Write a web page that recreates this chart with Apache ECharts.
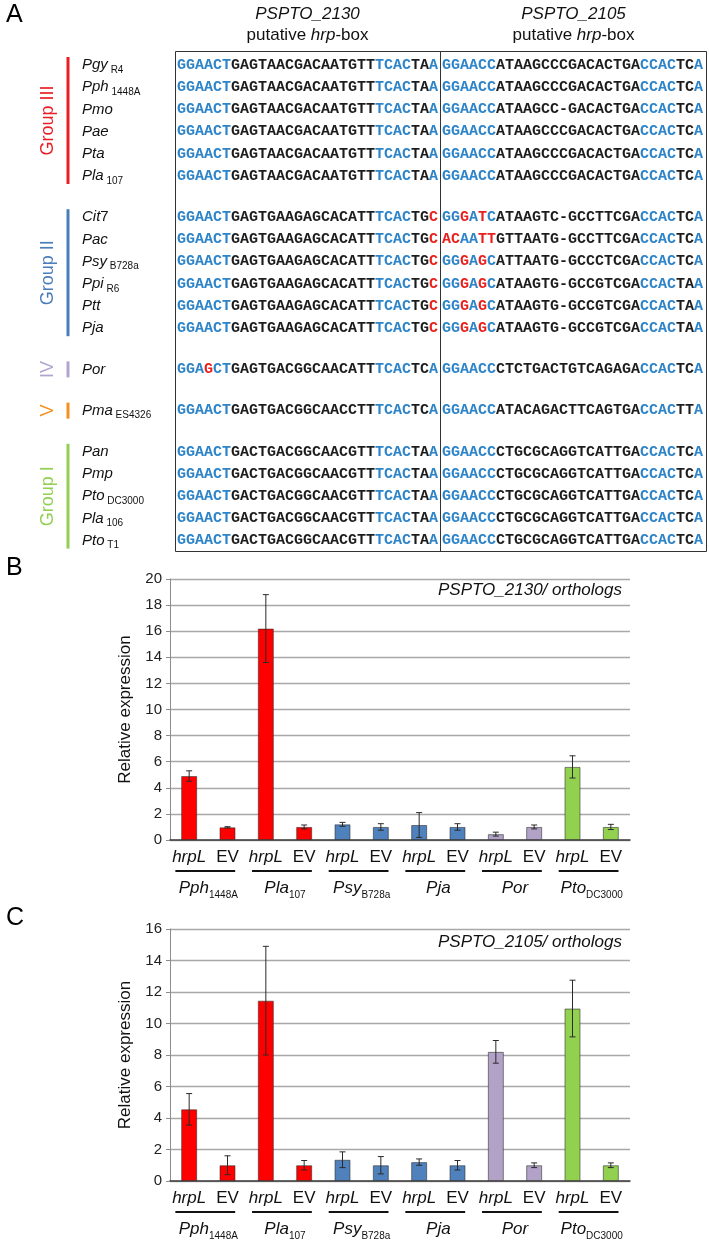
<!DOCTYPE html>
<html><head><meta charset="utf-8">
<script src="https://cdn.jsdelivr.net/npm/echarts@6/dist/echarts.min.js"></script>
<style>html,body{margin:0;padding:0;background:#fff}#c{width:709px;height:1247px}</style>
</head><body><div id="c"></div>
<script>
// ---------- Panel A data ----------
const strainNames = ['Pgy','Pph','Pmo','Pae','Pta','Pla','Cit','Pac','Psy','Ppi','Ptt','Pja','Por','Pma','Pan','Pmp','Pto','Pla','Pto'];
const strainSubs  = ['R4','1448A','','','','107','#7','','B728a','R6','','','','ES4326','','','DC3000','106','T1'];
const rowGroup    = [0,0,0,0,0,0,1,1,1,1,1,1,2,3,4,4,4,4,4];
// [..] blue (hrp-box consensus), <..> red (mismatch), rest black
const seq2130 = [
  '[GGAACT]GAGTAACGACAATGTT[TCAC]TA[A]',
  '[GGAACT]GAGTAACGACAATGTT[TCAC]TA[A]',
  '[GGAACT]GAGTAACGACAATGTT[TCAC]TA[A]',
  '[GGAACT]GAGTAACGACAATGTT[TCAC]TA[A]',
  '[GGAACT]GAGTAACGACAATGTT[TCAC]TA[A]',
  '[GGAACT]GAGTAACGACAATGTT[TCAC]TA[A]',
  '[GGAACT]GAGTGAAGAGCACATT[TCAC]TG<C>',
  '[GGAACT]GAGTGAAGAGCACATT[TCAC]TG<C>',
  '[GGAACT]GAGTGAAGAGCACATT[TCAC]TG<C>',
  '[GGAACT]GAGTGAAGAGCACATT[TCAC]TG<C>',
  '[GGAACT]GAGTGAAGAGCACATT[TCAC]TG<C>',
  '[GGAACT]GAGTGAAGAGCACATT[TCAC]TG<C>',
  '[GGA]<G>[CT]GAGTGACGGCAACATT[TCAC]TC[A]',
  '[GGAACT]GAGTGACGGCAACCTT[TCAC]TC[A]',
  '[GGAACT]GACTGACGGCAACGTT[TCAC]TA[A]',
  '[GGAACT]GACTGACGGCAACGTT[TCAC]TA[A]',
  '[GGAACT]GACTGACGGCAACGTT[TCAC]TA[A]',
  '[GGAACT]GACTGACGGCAACGTT[TCAC]TA[A]',
  '[GGAACT]GACTGACGGCAACGTT[TCAC]TA[A]'
];
const seq2105 = [
  '[GGAACC]ATAAGCCCGACACTGA[CCAC]TC[A]',
  '[GGAACC]ATAAGCCCGACACTGA[CCAC]TC[A]',
  '[GGAACC]ATAAGCC-GACACTGA[CCAC]TC[A]',
  '[GGAACC]ATAAGCCCGACACTGA[CCAC]TC[A]',
  '[GGAACC]ATAAGCCCGACACTGA[CCAC]TC[A]',
  '[GGAACC]ATAAGCCCGACACTGA[CCAC]TC[A]',
  '[GG]<G>[A]<T>[C]ATAAGTC-GCCTTCGA[CCAC]TC[A]',
  '<AC>[AA]<TT>GTTAATG-GCCTTCGA[CCAC]TC[A]',
  '[GG]<G>[A]<G>[C]ATTAATG-GCCCTCGA[CCAC]TC[A]',
  '[GG]<G>[A]<G>[C]ATAAGTG-GCCGTCGA[CCAC]TA[A]',
  '[GG]<G>[A]<G>[C]ATAAGTG-GCCGTCGA[CCAC]TA[A]',
  '[GG]<G>[A]<G>[C]ATAAGTG-GCCGTCGA[CCAC]TA[A]',
  '[GGAACC]CTCTGACTGTCAGAGA[CCAC]TC[A]',
  '[GGAACC]ATACAGACTTCAGTGA[CCAC]TT[A]',
  '[GGAACC]CTGCGCAGGTCATTGA[CCAC]TC[A]',
  '[GGAACC]CTGCGCAGGTCATTGA[CCAC]TC[A]',
  '[GGAACC]CTGCGCAGGTCATTGA[CCAC]TC[A]',
  '[GGAACC]CTGCGCAGGTCATTGA[CCAC]TC[A]',
  '[GGAACC]CTGCGCAGGTCATTGA[CCAC]TC[A]'
];
const groupNames  = ['Group III','Group II','IV','V','Group I'];
const groupColors = ['#ea1c24','#4a7ebb','#b1a4cf','#f4901e','#92cf52'];
const geneTitles  = ['PSPTO_2130','PSPTO_2105'];

// ---------- Panels B, C data ----------
const barLabels   = ['hrpL','EV','hrpL','EV','hrpL','EV','hrpL','EV','hrpL','EV','hrpL','EV'];
const sampleNames = ['Pph','Pla','Psy','Pja','Por','Pto'];
const sampleSubs  = ['1448A','107','B728a','','','DC3000'];
const sampleColors = ['#FF0000','#FF0000','#4F81BD','#4F81BD','#B3A2C7','#92D050'];
const valuesB = [4.9, 0.97, 16.2, 1.0, 1.2, 1.0, 1.15, 1.0, 0.45, 1.0, 5.6, 1.0];
const errorsB = [0.4, 0.05, 2.6, 0.15, 0.15, 0.25, 0.95, 0.25, 0.15, 0.15, 0.85, 0.2];
const valuesC = [4.55, 1.0, 11.45, 1.0, 1.35, 1.0, 1.2, 1.0, 8.2, 1.0, 10.95, 1.0];
const errorsC = [1.0, 0.6, 3.45, 0.3, 0.5, 0.55, 0.2, 0.3, 0.72, 0.15, 1.8, 0.15];
const titleB = 'PSPTO_2130/ orthologs';
const titleC = 'PSPTO_2105/ orthologs';
const yMaxB = 20, yMaxC = 16, yStep = 2;

// ---------- helpers ----------
const SANS = '"Liberation Sans", Arial, sans-serif';
const MONO = '"Liberation Mono", "Courier New", monospace';
function seqRich(s){
  let out = '', mode = 'k', buf = '';
  const flush = () => { if (buf) { out += '{' + mode + '|' + buf + '}'; buf = ''; } };
  for (const ch of s) {
    if (ch === '[') { flush(); mode = 'b'; }
    else if (ch === '<') { flush(); mode = 'r'; }
    else if (ch === ']' || ch === '>') { flush(); mode = 'k'; }
    else buf += ch;
  }
  flush();
  return out;
}
const seqFont = {fontSize: 15, fontFamily: MONO, fontWeight: 'bold'};
const seqRichStyles = {
  k: Object.assign({fill: '#1c1c1c'}, seqFont),
  b: Object.assign({fill: '#2d84c8'}, seqFont),
  r: Object.assign({fill: '#e8201c'}, seqFont)
};

const graphics = [];
// panel letters
[['A', 15], ['B', 568], ['C', 918]].forEach(([t, y]) => graphics.push({
  type: 'text', x: 6, y: y, style: {text: t, fontSize: 25, fontFamily: SANS, fill: '#000', verticalAlign: 'middle'}
}));
// gene titles
const colCenters = [307.5, 573.5];
geneTitles.forEach((g, k) => {
  graphics.push({type: 'text', x: colCenters[k], y: 14, style: {text: g, fontSize: 17, fontStyle: 'italic', fontFamily: SANS, fill: '#111', align: 'center', verticalAlign: 'middle'}});
  graphics.push({type: 'text', x: colCenters[k], y: 35, style: {
    text: '{n|putative }{i|hrp}{n|-box}', align: 'center', verticalAlign: 'middle', fontSize: 17, fontFamily: SANS,
    rich: {n: {fontSize: 17, fontFamily: SANS, fill: '#111'}, i: {fontSize: 17, fontFamily: SANS, fontStyle: 'italic', fill: '#111'}}
  }});
});
// alignment box
graphics.push({type: 'rect', shape: {x: 175.5, y: 51.5, width: 531, height: 500}, style: {fill: 'none', stroke: '#333', lineWidth: 1}});
graphics.push({type: 'line', shape: {x1: 440.5, y1: 51.5, x2: 440.5, y2: 551.5}, style: {stroke: '#333', lineWidth: 1}});

const rowY = strainNames.map((_, i) => 65 + i * 22.2 + rowGroup[i] * 19);
strainNames.forEach((nm, i) => {
  const sub = strainSubs[i];
  let txt = '{i|' + nm + '}';
  if (sub.startsWith('#')) txt += '{n|' + sub.slice(1) + '}';
  else if (sub) txt += '{s| ' + sub + '}';
  graphics.push({type: 'text', x: 82, y: rowY[i], style: {
    text: txt, verticalAlign: 'middle', fontSize: 15, fontFamily: SANS,
    rich: {
      i: {fontSize: 15, fontFamily: SANS, fontStyle: 'italic', fill: '#111', lineHeight: 20, verticalAlign: 'middle'},
      n: {fontSize: 15, fontFamily: SANS, fill: '#111', lineHeight: 20, verticalAlign: 'middle'},
      s: {fontSize: 10, fontFamily: SANS, fill: '#111', lineHeight: 20, verticalAlign: 'bottom'}
    }
  }});
  graphics.push({type: 'text', x: 177, y: rowY[i], style: {text: seqRich(seq2130[i]), verticalAlign: 'middle', fontSize: 15, fontFamily: MONO, fontWeight: 'bold', rich: seqRichStyles}});
  graphics.push({type: 'text', x: 442, y: rowY[i], style: {text: seqRich(seq2105[i]), verticalAlign: 'middle', fontSize: 15, fontFamily: MONO, fontWeight: 'bold', rich: seqRichStyles}});
});
// group bars and labels
groupNames.forEach((g, gi) => {
  const ys = rowY.filter((_, i) => rowGroup[i] === gi);
  const y1 = Math.min(...ys) - 8, y2 = Math.max(...ys) + 8;
  graphics.push({type: 'line', shape: {x1: 68, y1: y1, x2: 68, y2: y2}, style: {stroke: groupColors[gi], lineWidth: 3}});
  graphics.push({type: 'text', x: 48, y: (y1 + y2) / 2, rotation: Math.PI / 2, style: {
    text: g, fontSize: 18, fontFamily: SANS, fill: groupColors[gi], align: 'center', verticalAlign: 'middle'}});
});
// chart titles
graphics.push({type: 'text', x: 622, y: 590, style: {text: titleB, fontSize: 17, fontStyle: 'italic', fontFamily: SANS, fill: '#111', align: 'right', verticalAlign: 'middle'}});
graphics.push({type: 'text', x: 622, y: 942, style: {text: titleC, fontSize: 17, fontStyle: 'italic', fontFamily: SANS, fill: '#111', align: 'right', verticalAlign: 'middle'}});

// ---------- charts ----------
function errRender(params, api){
  const x = api.value(0), v = api.value(1), e = api.value(2);
  const hi = api.coord([x, v + e]), lo = api.coord([x, v - e]);
  const cw = 3;
  const st = {stroke: '#2a2a2a', lineWidth: 1};
  return {type: 'group', children: [
    {type: 'line', shape: {x1: hi[0], y1: hi[1], x2: lo[0], y2: lo[1]}, style: st},
    {type: 'line', shape: {x1: hi[0] - cw, y1: hi[1], x2: hi[0] + cw, y2: hi[1]}, style: st},
    {type: 'line', shape: {x1: lo[0] - cw, y1: lo[1], x2: lo[0] + cw, y2: lo[1]}, style: st}
  ]};
}
function underlineRender(params, api){
  const c = api.coord([api.value(0), 0]);
  const bw = api.size([1, 0])[0];
  return {type: 'line', shape: {x1: c[0] - bw * 0.43, y1: c[1] + 31, x2: c[0] + bw * 0.35, y2: c[1] + 31},
    style: {stroke: '#111', lineWidth: 2}};
}
const condRich = {
  i: {fontSize: 17, fontFamily: SANS, fontStyle: 'italic', color: '#111'},
  n: {fontSize: 17, fontFamily: SANS, color: '#111'}
};
const sampRich = {
  i: {fontSize: 17, fontFamily: SANS, fontStyle: 'italic', color: '#111', lineHeight: 24, verticalAlign: 'middle'},
  s: {fontSize: 10, fontFamily: SANS, color: '#111', lineHeight: 24, verticalAlign: 'bottom'}
};
function mkX(gi){
  return [
    {type: 'category', gridIndex: gi, data: barLabels,
     axisLine: {show: true, lineStyle: {color: '#3a3a3a', width: 1.5}}, axisTick: {show: false},
     axisLabel: {interval: 0, margin: 9, formatter: v => v === 'hrpL' ? '{i|hrpL}' : '{n|EV}', rich: condRich}},
    {type: 'category', gridIndex: gi, data: sampleNames, position: 'bottom', offset: 36,
     axisLine: {show: false}, axisTick: {show: false},
     axisLabel: {interval: 0, margin: 0, formatter: (v, idx) => '{i|' + v + '}' + (sampleSubs[idx] ? '{s|' + sampleSubs[idx] + '}' : ''), rich: sampRich}}
  ];
}
function mkY(gi, max){
  return {type: 'value', gridIndex: gi, min: 0, max: max, interval: yStep,
    name: 'Relative expression', nameLocation: 'middle', nameGap: 36, nameRotate: 90,
    nameTextStyle: {fontSize: 17, fontFamily: SANS, color: '#111'},
    axisLine: {show: true, lineStyle: {color: '#8c8c8c', width: 1}},
    axisTick: {show: true, length: 4, lineStyle: {color: '#8c8c8c'}},
    axisLabel: {fontSize: 15, fontFamily: SANS, color: '#222', margin: 8},
    splitLine: {show: true, lineStyle: {color: '#a8a8a8', width: 1.3}}};
}
function barData(vals){
  return vals.map((v, i) => ({value: v, itemStyle: {color: sampleColors[Math.floor(i / 2)]}}));
}
function mkSeries(gi, vals, errs){
  return [
    {type: 'bar', xAxisIndex: gi * 2, yAxisIndex: gi, data: barData(vals), barWidth: 16,
     itemStyle: {borderColor: 'rgba(40,40,40,0.55)', borderWidth: 1}, silent: true, animation: false},
    {type: 'custom', xAxisIndex: gi * 2, yAxisIndex: gi, renderItem: errRender,
     data: vals.map((v, i) => [i, v, errs[i]]), encode: {x: 0, y: 1}, z: 5, silent: true, animation: false},
    {type: 'custom', xAxisIndex: gi * 2 + 1, yAxisIndex: gi, renderItem: underlineRender,
     data: sampleNames.map((_, i) => [i, 0]), encode: {x: 0, y: 1}, silent: true, animation: false, clip: false}
  ];
}

const chart = echarts.init(document.getElementById('c'), null, {renderer: 'canvas'});
chart.setOption({
  animation: false,
  backgroundColor: '#fff',
  textStyle: {fontFamily: SANS},
  grid: [
    {left: 170, width: 460, top: 579, height: 261},
    {left: 170, width: 460, top: 929, height: 252}
  ],
  xAxis: mkX(0).concat(mkX(1)),
  yAxis: [mkY(0, yMaxB), mkY(1, yMaxC)],
  series: mkSeries(0, valuesB, errorsB).concat(mkSeries(1, valuesC, errorsC)),
  graphic: graphics
});
</script></body></html>
